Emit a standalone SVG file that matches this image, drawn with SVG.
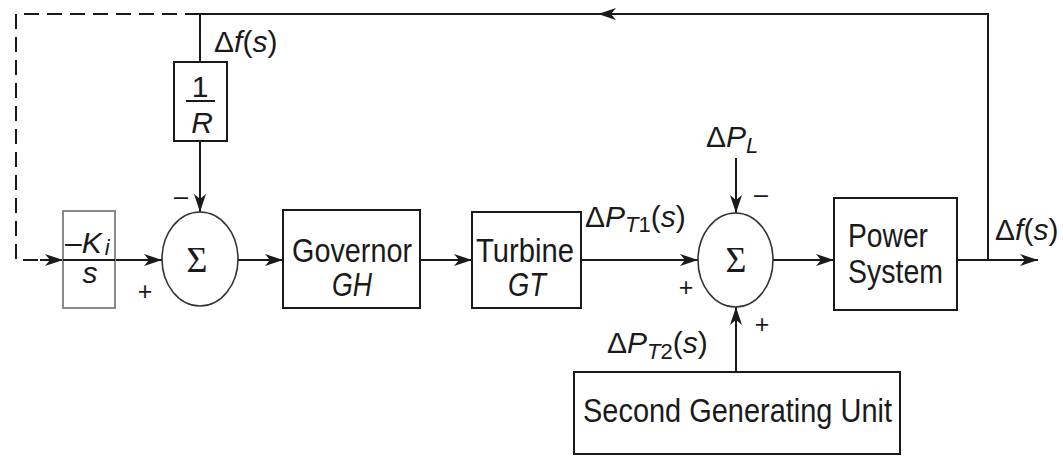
<svg xmlns="http://www.w3.org/2000/svg" width="1063" height="456" viewBox="0 0 1063 456">
  <style>
    .ln { fill: none; stroke: #1a1a1a; stroke-width: 2; }
    .dash { fill: none; stroke: #1a1a1a; stroke-width: 2; stroke-dasharray: 15 8; }
    .box { fill: #fff; stroke: #1a1a1a; stroke-width: 2; }
    .gbox { fill: #fff; stroke: #8a8a8a; stroke-width: 2; }
    .sum { fill: #fff; stroke: #333; stroke-width: 1.6; }
    .t { font-family: "Liberation Sans", Arial, sans-serif; font-size: 30px; fill: #1a1a1a; }
    .b { font-size: 33px; }
    .i { font-style: italic; }
    .sig { font-family: "Liberation Serif", "Times New Roman", serif; font-size: 36px; fill: #1a1a1a; }
    .sg { font-family: "Liberation Sans", Arial, sans-serif; font-size: 25px; fill: #1a1a1a; }
  </style>
  <defs>
    <marker id="ah" viewBox="0 0 18 12" refX="18" refY="6" markerWidth="18" markerHeight="12" markerUnits="userSpaceOnUse" orient="auto">
      <path d="M0,0 L18,6 L0,12 L5,6 z" fill="#1a1a1a"/>
    </marker>
  </defs>

  <g id="connectors">
    <polyline class="ln" points="957,260 988,260 988,14 598,14" marker-end="url(#ah)"/>
    <line class="ln" x1="602" y1="14" x2="200" y2="14"/>
    <line class="ln" x1="200" y1="14" x2="200" y2="62"/>
    <line class="ln" x1="200" y1="141" x2="200" y2="212" marker-end="url(#ah)"/>
    <polyline class="dash" points="200,14 16,14 16,260 38,260"/>
    <line class="ln" x1="40" y1="260" x2="63" y2="260" marker-end="url(#ah)"/>
    <line class="ln" x1="115" y1="260" x2="162" y2="260" marker-end="url(#ah)"/>
    <line class="ln" x1="238" y1="260" x2="283" y2="260" marker-end="url(#ah)"/>
    <line class="ln" x1="420" y1="260" x2="472" y2="260" marker-end="url(#ah)"/>
    <line class="ln" x1="581" y1="260" x2="698" y2="260" marker-end="url(#ah)"/>
    <line class="ln" x1="773" y1="260" x2="834" y2="260" marker-end="url(#ah)"/>
    <line class="ln" x1="988" y1="260" x2="1038" y2="260" marker-end="url(#ah)"/>
    <line class="ln" x1="736" y1="158" x2="736" y2="213" marker-end="url(#ah)"/>
    <line class="ln" x1="736" y1="372" x2="736" y2="307" marker-end="url(#ah)"/>
  </g>

  <g id="node-R">
    <rect class="box" x="174" y="62" width="53" height="79"/>
    <text class="t" x="200" y="97" text-anchor="middle">1</text>
    <line class="ln" x1="186" y1="101" x2="215" y2="101"/>
    <text class="t i" x="202" y="133" text-anchor="middle">R</text>
  </g>

  <g id="node-Ki">
    <rect class="gbox" x="63" y="211" width="52" height="97"/>
    <line class="ln" x1="63" y1="260" x2="115" y2="260"/>
    <text class="t" x="65" y="253">–<tspan class="i">K</tspan><tspan class="i" font-size="22" dx="3" dy="2">i</tspan></text>
    <text class="t i" x="90" y="283" text-anchor="middle">s</text>
  </g>

  <g id="node-sum1">
    <ellipse class="sum" cx="200" cy="259" rx="38" ry="47"/>
    <text class="sig" x="197" y="272" text-anchor="middle">Σ</text>
    <text class="sg" x="181" y="205" text-anchor="middle">–</text>
    <text class="sg" x="145" y="300" text-anchor="middle">+</text>
  </g>

  <g id="node-governor">
    <rect class="box" x="283" y="210" width="137" height="98"/>
    <text class="t b" x="352" y="262" text-anchor="middle" textLength="120" lengthAdjust="spacingAndGlyphs">Governor</text>
    <text class="t b i" x="352" y="296" text-anchor="middle" textLength="40" lengthAdjust="spacingAndGlyphs">GH</text>
  </g>

  <g id="node-turbine">
    <rect class="box" x="472" y="212" width="109" height="96"/>
    <text class="t b" x="525" y="262" text-anchor="middle" textLength="98" lengthAdjust="spacingAndGlyphs">Turbine</text>
    <text class="t b i" x="527" y="296" text-anchor="middle" textLength="38" lengthAdjust="spacingAndGlyphs">GT</text>
  </g>

  <g id="node-sum2">
    <ellipse class="sum" cx="735.5" cy="260" rx="37.5" ry="47"/>
    <text class="sig" x="736" y="272" text-anchor="middle">Σ</text>
    <text class="sg" x="761" y="203" text-anchor="middle">–</text>
    <text class="sg" x="686" y="296" text-anchor="middle">+</text>
    <text class="sg" x="762" y="333" text-anchor="middle">+</text>
  </g>

  <g id="node-power">
    <rect class="box" x="834" y="198" width="123" height="112"/>
    <text class="t b" x="848" y="247" textLength="80" lengthAdjust="spacingAndGlyphs">Power</text>
    <text class="t b" x="848" y="283" textLength="95" lengthAdjust="spacingAndGlyphs">System</text>
  </g>

  <g id="node-second">
    <rect class="box" x="574" y="372" width="326" height="82"/>
    <text class="t b" x="583" y="422" textLength="309" lengthAdjust="spacingAndGlyphs">Second Generating Unit</text>
  </g>

  <g id="labels">
    <text class="t" x="214" y="52">Δ<tspan class="i">f</tspan>(<tspan class="i">s</tspan>)</text>
    <text class="t" x="995" y="240">Δ<tspan class="i">f</tspan>(<tspan class="i">s</tspan>)</text>
    <text class="t" x="706" y="147">Δ<tspan class="i">P</tspan><tspan class="i" font-size="22" dy="6">L</tspan></text>
    <text class="t" x="585" y="227">Δ<tspan class="i">P</tspan><tspan font-size="22" dy="5"><tspan class="i">T</tspan>1</tspan><tspan dy="-5">(<tspan class="i">s</tspan>)</tspan></text>
    <text class="t" x="607" y="353">Δ<tspan class="i">P</tspan><tspan font-size="22" dy="6"><tspan class="i">T</tspan>2</tspan><tspan dy="-6">(<tspan class="i">s</tspan>)</tspan></text>
  </g>
</svg>
